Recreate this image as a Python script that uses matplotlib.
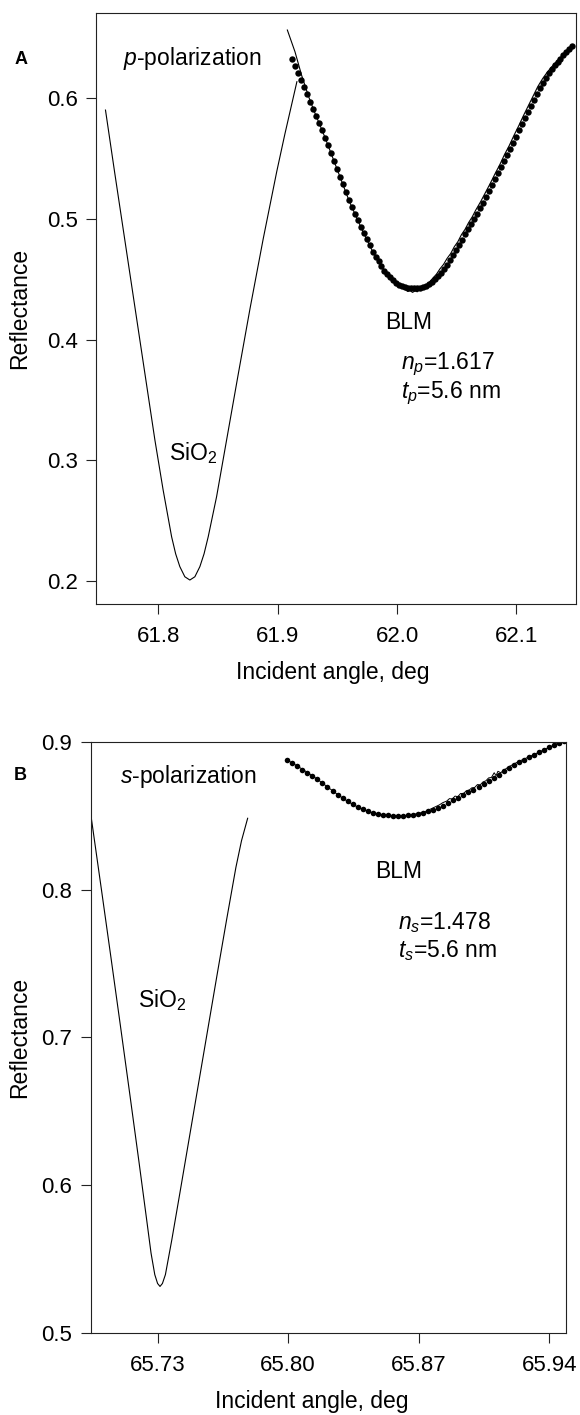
import matplotlib
matplotlib.use("Agg")
import matplotlib.pyplot as plt

plt.rcParams['font.family'] = ['Liberation Sans', 'DejaVu Sans']
plt.rcParams['mathtext.fontset'] = 'custom'
plt.rcParams['mathtext.rm'] = 'Liberation Sans'
plt.rcParams['mathtext.it'] = 'Liberation Sans:italic'
plt.rcParams['mathtext.bf'] = 'Liberation Sans:bold'

# ---------------- Panel A (p-polarization) ----------------
a_sio2_x = [61.7557, 61.7635, 61.7719, 61.7803, 61.7887, 61.7971, 61.8040, 61.8111,
            61.8145, 61.8180, 61.8222, 61.8264, 61.8306, 61.8348, 61.8383, 61.8418,
            61.8488, 61.8572, 61.8669, 61.8768, 61.8879, 61.8992, 61.9060, 61.9161]
a_sio2_y = [0.590, 0.5376, 0.4824, 0.4272, 0.372, 0.3168, 0.2754, 0.2367,
            0.2225, 0.2119, 0.2035, 0.2008, 0.2035, 0.2119, 0.2225, 0.2367,
            0.2698, 0.3168, 0.3710, 0.4255, 0.4835, 0.5390, 0.5700, 0.6135]

a_blm_line_x = [61.9081, 61.9145, 61.9200, 61.9260, 61.9300, 61.9400, 61.9500, 61.9600,
                61.9700, 61.9800, 61.9900, 61.9960, 62.0000, 62.0040, 62.0070, 62.0090,
                62.0110, 62.0130, 62.0150, 62.0170, 62.0190, 62.0210, 62.0240, 62.0270,
                62.0300, 62.0330, 62.0360, 62.0390, 62.0420, 62.0450, 62.0480, 62.0510,
                62.0540, 62.0570, 62.0600, 62.0630, 62.0660, 62.0700, 62.0740, 62.0780,
                62.0820, 62.0860, 62.0900, 62.0940, 62.0980, 62.1020, 62.1060, 62.1100,
                62.1140, 62.1180, 62.1220, 62.1260, 62.1300, 62.1340, 62.1380, 62.1420,
                62.1466]
a_blm_line_y = [0.6563, 0.6383, 0.6190, 0.6010, 0.5905, 0.5665, 0.5405, 0.5145,
                0.4925, 0.4720, 0.4562, 0.4490, 0.4458, 0.4430, 0.4412, 0.4398,
                0.4405, 0.4390, 0.4402, 0.4395, 0.4418, 0.4425, 0.4445, 0.4472,
                0.4508, 0.4540, 0.4585, 0.4622, 0.4672, 0.4712, 0.4768, 0.4810,
                0.4868, 0.4912, 0.4968, 0.5015, 0.5072, 0.5140, 0.5215, 0.5290,
                0.5370, 0.5445, 0.5530, 0.5605, 0.5690, 0.5770, 0.5855, 0.5935,
                0.6015, 0.6095, 0.6160, 0.6215, 0.6262, 0.6305, 0.6345, 0.6385,
                0.6432]

a_dots_x = [61.9120, 61.9145, 61.9170, 61.9195, 61.9220, 61.9245, 61.9270, 61.9295,
            61.9320, 61.9345, 61.9370, 61.9395, 61.9420, 61.9445, 61.9470, 61.9495,
            61.9520, 61.9545, 61.9570, 61.9595, 61.9620, 61.9645, 61.9670, 61.9695,
            61.9720, 61.9745, 61.9770, 61.9795, 61.9820, 61.9845, 61.9870, 61.9895,
            61.9920, 61.9945, 61.9970, 61.9995, 62.0020, 62.0045, 62.0070, 62.0095,
            62.0120, 62.0145, 62.0170, 62.0195, 62.0220, 62.0245, 62.0270, 62.0295,
            62.0320, 62.0345, 62.0370, 62.0395, 62.0420, 62.0445, 62.0470, 62.0495,
            62.0520, 62.0545, 62.0570, 62.0595, 62.0620, 62.0645, 62.0670, 62.0695,
            62.0720, 62.0745, 62.0770, 62.0795, 62.0820, 62.0845, 62.0870, 62.0895,
            62.0920, 62.0945, 62.0970, 62.0995, 62.1020, 62.1045, 62.1070, 62.1095,
            62.1120, 62.1145, 62.1170, 62.1195, 62.1220, 62.1245, 62.1270, 62.1295,
            62.1320, 62.1345, 62.1370, 62.1395, 62.1420, 62.1445, 62.1470]
a_dots_y = [0.6322, 0.6264, 0.6205, 0.6147, 0.6088, 0.6030, 0.5971, 0.5912,
            0.5852, 0.5792, 0.5732, 0.5672, 0.5608, 0.5543, 0.5478, 0.5413,
            0.5348, 0.5284, 0.5219, 0.5155, 0.5098, 0.5042, 0.4987, 0.4931,
            0.4880, 0.4829, 0.4779, 0.4728, 0.4686, 0.4647, 0.4607, 0.4568,
            0.4540, 0.4516, 0.4491, 0.4467, 0.4452, 0.4442, 0.4435, 0.4429,
            0.4426, 0.4424, 0.4426, 0.4430, 0.4436, 0.4446, 0.4459, 0.4476,
            0.4498, 0.4524, 0.4553, 0.4585, 0.4620, 0.4658, 0.4698, 0.4740,
            0.4783, 0.4826, 0.4870, 0.4914, 0.4957, 0.5000, 0.5043, 0.5088,
            0.5134, 0.5182, 0.5230, 0.5278, 0.5327, 0.5377, 0.5426, 0.5475,
            0.5526, 0.5578, 0.5629, 0.5680, 0.5731, 0.5782, 0.5834, 0.5885,
            0.5935, 0.5985, 0.6035, 0.6083, 0.6126, 0.6165, 0.6203, 0.6240,
            0.6272, 0.6300, 0.6327, 0.6355, 0.6380, 0.6404, 0.6429]

a_xticks = [61.8, 61.9, 62.0, 62.1]
a_xticklabels = ["61.8", "61.9", "62.0", "62.1"]
a_yticks = [0.2, 0.3, 0.4, 0.5, 0.6]
a_yticklabels = ["0.2", "0.3", "0.4", "0.5", "0.6"]

# ---------------- Panel B (s-polarization) ----------------
b_sio2_x = [65.6941, 65.7000, 65.7050, 65.7100, 65.7150, 65.7200, 65.7240, 65.7265,
            65.7285, 65.7300, 65.7313, 65.7326, 65.7342, 65.7376, 65.7420, 65.7470,
            65.7520, 65.7570, 65.7620, 65.7670, 65.7720, 65.7750, 65.7783]
b_sio2_y = [0.8516, 0.7990, 0.7540, 0.7085, 0.6625, 0.6160, 0.5780, 0.5540,
            0.5395, 0.5335, 0.5315, 0.5335, 0.5395, 0.5628, 0.5950, 0.6320,
            0.6690, 0.7060, 0.7430, 0.7795, 0.8150, 0.8330, 0.8482]

b_blm_line_x = [65.7990, 65.8050, 65.8100, 65.8150, 65.8200, 65.8250, 65.8300, 65.8350,
                65.8400, 65.8450, 65.8500, 65.8550, 65.8600, 65.8650, 65.8700, 65.8740,
                65.8770, 65.8790, 65.8810, 65.8830, 65.8850, 65.8865, 65.8880, 65.8895,
                65.8910, 65.8925, 65.8940, 65.8955, 65.8970, 65.8985, 65.9000, 65.9015,
                65.9030, 65.9045, 65.9060, 65.9075, 65.9090, 65.9105, 65.9115, 65.9125,
                65.9140, 65.9160, 65.9180, 65.9200, 65.9230, 65.9260, 65.9300, 65.9350,
                65.9400, 65.9450, 65.9478]
b_blm_line_y = [0.8880, 0.8835, 0.8795, 0.8752, 0.8705, 0.8657, 0.8612, 0.8573,
                0.8542, 0.8520, 0.8506, 0.8498, 0.8497, 0.8503, 0.8515, 0.8530,
                0.8548, 0.8560, 0.8572, 0.8588, 0.8598, 0.8615, 0.8612, 0.8632,
                0.8628, 0.8650, 0.8648, 0.8668, 0.8672, 0.8688, 0.8690, 0.8710,
                0.8708, 0.8728, 0.8735, 0.8755, 0.8758, 0.8790, 0.8770, 0.8800,
                0.8790, 0.8810, 0.8828, 0.8842, 0.8862, 0.8880, 0.8902, 0.8932,
                0.8962, 0.8992, 0.9007]

b_dots_x = [65.7995, 65.8022, 65.8049, 65.8076, 65.8103, 65.8130, 65.8157, 65.8184,
            65.8211, 65.8238, 65.8265, 65.8292, 65.8319, 65.8346, 65.8373, 65.8400,
            65.8427, 65.8454, 65.8481, 65.8508, 65.8535, 65.8562, 65.8589, 65.8616,
            65.8643, 65.8670, 65.8697, 65.8724, 65.8751, 65.8778, 65.8805, 65.8832,
            65.8859, 65.8886, 65.8913, 65.8940, 65.8967, 65.8994, 65.9021, 65.9048,
            65.9075, 65.9102, 65.9129, 65.9156, 65.9183, 65.9210, 65.9237, 65.9264,
            65.9291, 65.9318, 65.9345, 65.9372, 65.9399, 65.9426, 65.9453, 65.9480]
b_dots_y = [0.8875, 0.8854, 0.8833, 0.8811, 0.8790, 0.8768, 0.8745, 0.8719,
            0.8694, 0.8668, 0.8642, 0.8618, 0.8597, 0.8576, 0.8558, 0.8543,
            0.8530, 0.8521, 0.8513, 0.8507, 0.8503, 0.8500, 0.8499, 0.8500,
            0.8502, 0.8506, 0.8512, 0.8520, 0.8529, 0.8540, 0.8553, 0.8568,
            0.8585, 0.8603, 0.8621, 0.8639, 0.8657, 0.8675, 0.8694, 0.8714,
            0.8735, 0.8756, 0.8778, 0.8800, 0.8821, 0.8842, 0.8860, 0.8878,
            0.8894, 0.8911, 0.8928, 0.8945, 0.8962, 0.8978, 0.8993, 0.9006]

b_xticks = [65.73, 65.80, 65.87, 65.94]
b_xticklabels = ["65.73", "65.80", "65.87", "65.94"]
b_yticks = [0.5, 0.6, 0.7, 0.8, 0.9]
b_yticklabels = ["0.5", "0.6", "0.7", "0.8", "0.9"]

# ---------------- Figure ----------------
W, H = 580, 1415
fig = plt.figure(figsize=(W / 100, H / 100), dpi=100)


def fx(px):
    return px / W


def fy(py):
    return 1 - py / H


def style(ax):
    for s in ax.spines.values():
        s.set_linewidth(0.8)
        s.set_color('#222222')
    ax.tick_params(direction='out', length=7.5, width=0.8, labelsize=16,
                   color='#222222')
    ax.tick_params(axis='x', pad=8)
    ax.tick_params(axis='y', pad=6)


# Panel A
axA = fig.add_axes([fx(96.3), fy(604.3), fx(576) - fx(96.3), (604.3 - 13) / H])
axA.plot(a_sio2_x, a_sio2_y, color='black', lw=0.8, solid_joinstyle='round')
axA.plot(a_blm_line_x, a_blm_line_y, color='black', lw=0.8)
axA.plot(a_dots_x, a_dots_y, 'o', color='black', ms=4.6, mec='none')
axA.set_xlim(61.748, 62.150)
axA.set_ylim(0.1807, 0.6704)
axA.set_xticks(a_xticks)
axA.set_xticklabels(a_xticklabels)
axA.set_yticks(a_yticks)
axA.set_yticklabels(a_yticklabels)
style(axA)
axA.set_xlabel("Incident angle, deg", fontsize=16.5)
axA.xaxis.set_label_coords(0.493, (604.3 - 673) / (604.3 - 13), transform=axA.transAxes)
axA.xaxis.label.set_va('center')
axA.set_ylabel("Reflectance", fontsize=16.5)
axA.yaxis.set_label_coords((20 - 96.3) / (576 - 96.3), 0.5, transform=axA.transAxes)
axA.yaxis.label.set_va('center')

# Panel B
axB = fig.add_axes([fx(91), fy(1333), fx(566) - fx(91), (1333 - 741.7) / H])
axB.plot(b_sio2_x, b_sio2_y, color='black', lw=0.8, solid_joinstyle='round')
axB.plot(b_blm_line_x, b_blm_line_y, color='black', lw=0.7)
axB.plot(b_dots_x, b_dots_y, 'o', color='black', ms=4.0, mec='none')
axB.set_xlim(65.6943, 65.949)
axB.set_ylim(0.5, 0.9)
axB.set_xticks(b_xticks)
axB.set_xticklabels(b_xticklabels)
axB.set_yticks(b_yticks)
axB.set_yticklabels(b_yticklabels)
style(axB)
axB.set_xlabel("Incident angle, deg", fontsize=16.5)
axB.xaxis.set_label_coords((312 - 91) / (566 - 91), (1333 - 1401.7) / (1333 - 741.7), transform=axB.transAxes)
axB.xaxis.label.set_va('center')
axB.set_ylabel("Reflectance", fontsize=16.5)
axB.yaxis.set_label_coords((20 - 91) / (566 - 91), 0.5, transform=axB.transAxes)
axB.yaxis.label.set_va('center')

# Annotations (pixel positions)
fs = 16.5
fig.text(fx(21), fy(59), "A", fontsize=13, fontweight='bold', ha='center', va='center')
fig.text(fx(123), fy(59), r"$p$-polarization", fontsize=fs, ha='left', va='center')
fig.text(fx(408.5), fy(322.7), "BLM", fontsize=fs, ha='center', va='center')
fig.text(fx(401), fy(364), r"$n_p$=1.617", fontsize=fs, ha='left', va='center')
fig.text(fx(401), fy(393), r"$t_p$=5.6 nm", fontsize=fs, ha='left', va='center')
fig.text(fx(169), fy(453.5), r"SiO$_2$", fontsize=fs, ha='left', va='center')

fig.text(fx(20), fy(776), "B", fontsize=13, fontweight='bold', ha='center', va='center')
fig.text(fx(120), fy(776), r"$s$-polarization", fontsize=fs, ha='left', va='center')
fig.text(fx(398.5), fy(872), "BLM", fontsize=fs, ha='center', va='center')
fig.text(fx(398), fy(923), r"$n_s$=1.478", fontsize=fs, ha='left', va='center')
fig.text(fx(398), fy(951), r"$t_s$=5.6 nm", fontsize=fs, ha='left', va='center')
fig.text(fx(138), fy(1000), r"SiO$_2$", fontsize=fs, ha='left', va='center')

fig.savefig("out.png", dpi=100)
